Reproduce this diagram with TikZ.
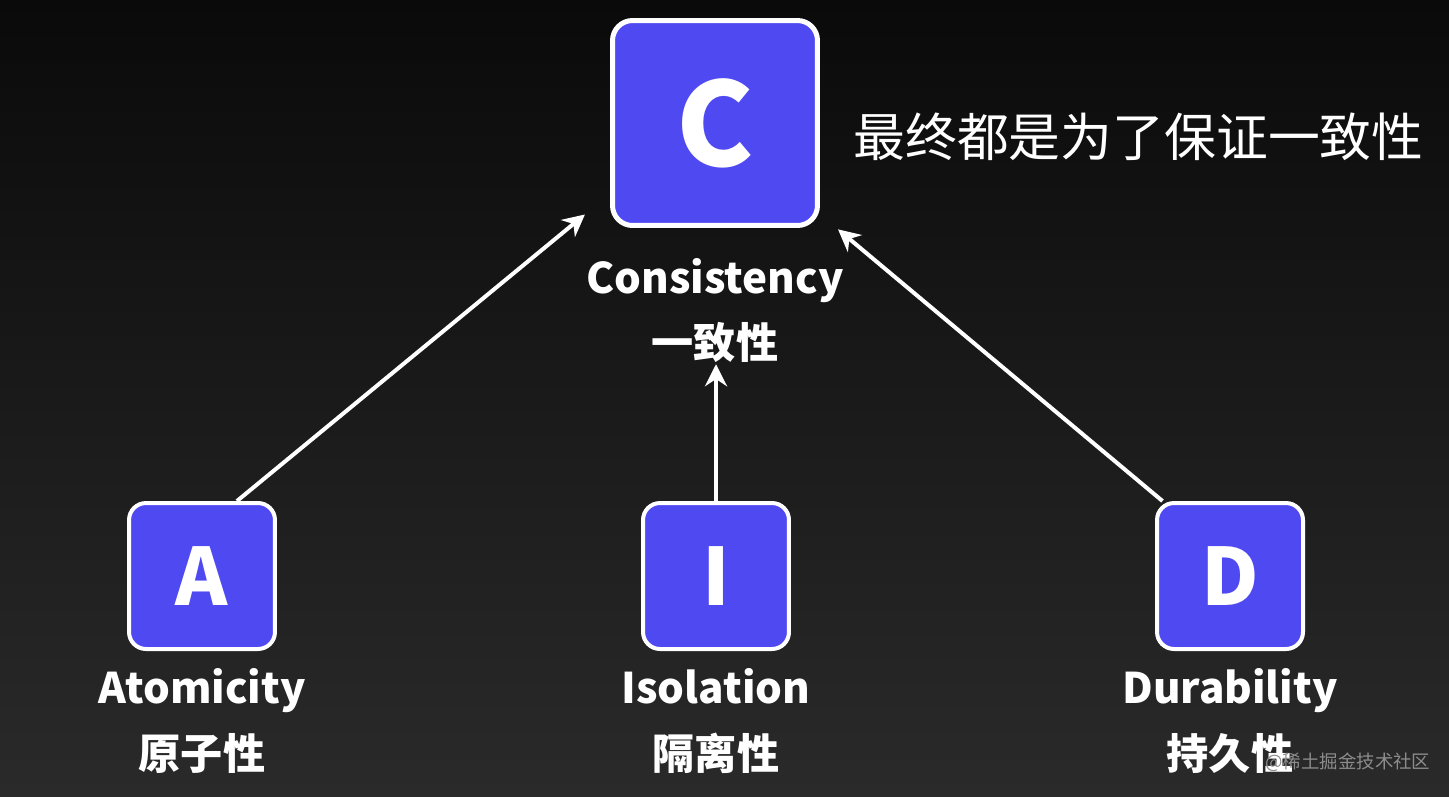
\documentclass[tikz,border=0pt]{standalone}
\usepackage{fontspec}
\setmainfont{Noto Sans CJK SC}
\usetikzlibrary{arrows.meta,positioning}
\definecolor{boxblue}{HTML}{4F49F2}
\definecolor{bgtop}{HTML}{0A0A0A}
\definecolor{bgbot}{HTML}{2A2A2A}

\begin{document}
\begin{tikzpicture}[x=0.02cm, y=-0.02cm,
  box/.style={draw=white, fill=boxblue, rounded corners=0.34cm, line width=0.08cm, minimum size=2.92cm, inner sep=0pt, text=white, font=\bfseries\fontsize{45}{45}\selectfont},
  bigbox/.style={box, rounded corners=0.4cm, line width=0.1cm, minimum size=4.1cm, font=\bfseries\fontsize{66}{66}\selectfont},
  lbl/.style={anchor=base, text=white, inner sep=1pt, font=\bfseries\fontsize{24}{24}\selectfont},
  arrow/.style={->, draw=white, line width=0.08cm},
  >={Stealth[length=0.44cm,width=0.44cm]}]
\useasboundingbox (0,0) rectangle (1449,796);
\fill[top color=bgtop, bottom color=bgbot] (0,0) rectangle (1449,796);

% the four letters
\node[bigbox] (C) at (715,123) {C};
\node[box] (A) at (202,576) {A};
\node[box] (I) at (716,576) {I};
\node[box] (D) at (1230,576) {D};

% names under the boxes
\node[lbl] (Cen) at (715,293) {Consistency};
\node[lbl] (Czh) at (715,358) {一致性};
\node[lbl] (Aen) at (202,703) {Atomicity};
\node[lbl] (Azh) at (202,769) {原子性};
\node[lbl] (Ien) at (716,703) {Isolation};
\node[lbl] (Izh) at (716,769) {隔离性};
\node[lbl] (Den) at (1230,703) {Durability};
\node[lbl] (Dzh) at (1230,769) {持久性};

\node[anchor=base west, text=white, inner sep=0pt, font=\fontsize{29.5}{29.5}\selectfont] (note) at (853,156) {最终都是为了保证一致性};
\node[anchor=base west, text=gray!90, inner sep=0pt, font=\fontsize{10.5}{10.5}\selectfont] (mark) at (1265,768) {@稀土掘金技术社区};

\draw[arrow, shorten >=0.65cm] (A.65) -- (C.214);
\draw[arrow] (I.north) -- (I.north |- Czh.south);
\draw[arrow, shorten >=0.47cm] (D.132) -- (C.319);
\end{tikzpicture}
\end{document}
